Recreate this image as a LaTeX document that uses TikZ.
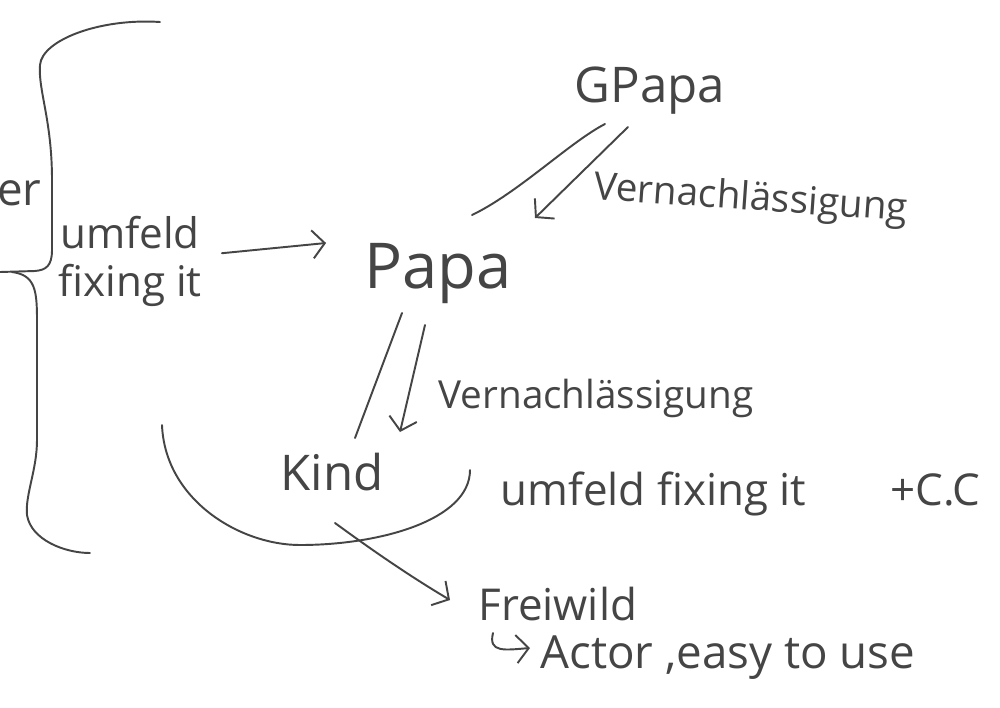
\documentclass[tikz,border=0pt]{standalone}
\usepackage{fontspec}
\setmainfont{Open Sans}
\usetikzlibrary{arrows.meta,calc}
\definecolor{ink}{HTML}{454545}
\tikzset{
  hand/.style={draw=ink, line width=1.1pt, line cap=round, line join=round},
  harrow/.style={hand, -{Straight Barb[length=7pt,width=16pt,line width=1.1pt]}},
  txt/.style={text=ink, inner sep=0pt, font=\fontsize{#1pt}{#1pt}\selectfont},
}
\begin{document}
\begin{tikzpicture}[x=0.02cm, y=-0.02cm]
\useasboundingbox (0,0) rectangle (1000,707);
\fill[white] (0,0) rectangle (1000,707);
\clip (0,0) rectangle (1000,707);

% texts
\node[txt=26, anchor=base east] (er) at (42,205) {er};
\node[txt=24, align=center, font=\fontsize{24pt}{27pt}\selectfont, anchor=base] (env) at (130,296) {umfeld\\fixing it};
\node[txt=36, anchor=base] (Papa) at (438,288) {Papa};
\node[txt=28, anchor=base] (GPapa) at (650,102) {GPapa};
\node[txt=22, anchor=base, rotate=-4] (v1) at (750,210) {Vernachlässigung};
\node[txt=22, anchor=base] (v2) at (596,408) {Vernachlässigung};
\node[txt=28, anchor=base] (Kind) at (332,490) {Kind};
\node[txt=25, anchor=base west] (uf2) at (500,505) {umfeld fixing it};
\node[txt=25, anchor=base west] (cc) at (890,505) {+C.C};
\node[txt=25, anchor=base west] (Freiwild) at (478,620) {Freiwild};
\node[txt=26, anchor=base west] (Actor) at (540,668) {Actor ,easy to use};

% brace on the left
\draw[hand] (160,22) .. controls (100,18) and (42,40) .. (40,65)
  .. controls (38,90) and (52,120) .. (52,180) -- (52,250)
  .. controls (52,266) and (46,270) .. (35,271) -- (0,272);
\draw[hand] (12,272) .. controls (35,275) and (37,290) .. (37,320)
  -- (37,440) .. controls (37,470) and (25,495) .. (27,515)
  .. controls (31,540) and (65,553) .. (90,553);

% umfeld -> Papa
\draw[harrow] ($(env.east)+(20,-8)$) -- ($(Papa.base west)+(-38,-45)$);

% Papa <-> GPapa
\draw[hand] ($(Papa.base)+(34,-73)$) .. controls ($(Papa.base)+(80,-95)$) and ($(GPapa.base)+(-80,40)$) .. ($(GPapa.base)+(-45,22)$);
\draw[harrow] ($(GPapa.base)+(-22,25)$) -- ($(Papa.base)+(97,-70)$);

% Papa <-> Kind
\draw[hand] ($(Papa.base)+(-36,25)$) -- ($(Kind.base)+(23,-52)$);
\draw[harrow] ($(Papa.base)+(-13,37)$) -- ($(Kind.base)+(68,-58)$);

% bracket round Kind
\draw[hand] (162,425) .. controls (165,500) and (240,545) .. (300,545)
  .. controls (380,545) and (470,520) .. (470,470);

% Kind -> Freiwild
\draw[harrow] ($(Kind.base)+(3,33)$) .. controls ($(Kind.base)+(40,60)$) and ($(Freiwild.base west)+(-70,-45)$) .. ($(Freiwild.base west)+(-28,-20)$);

% hook arrow to Actor
\draw[harrow] ($(Actor.base west)+(-47,-35)$) .. controls ($(Actor.base west)+(-52,-15)$) and ($(Actor.base west)+(-35,-18)$) .. ($(Actor.base west)+(-10,-20)$);
\end{tikzpicture}
\end{document}
